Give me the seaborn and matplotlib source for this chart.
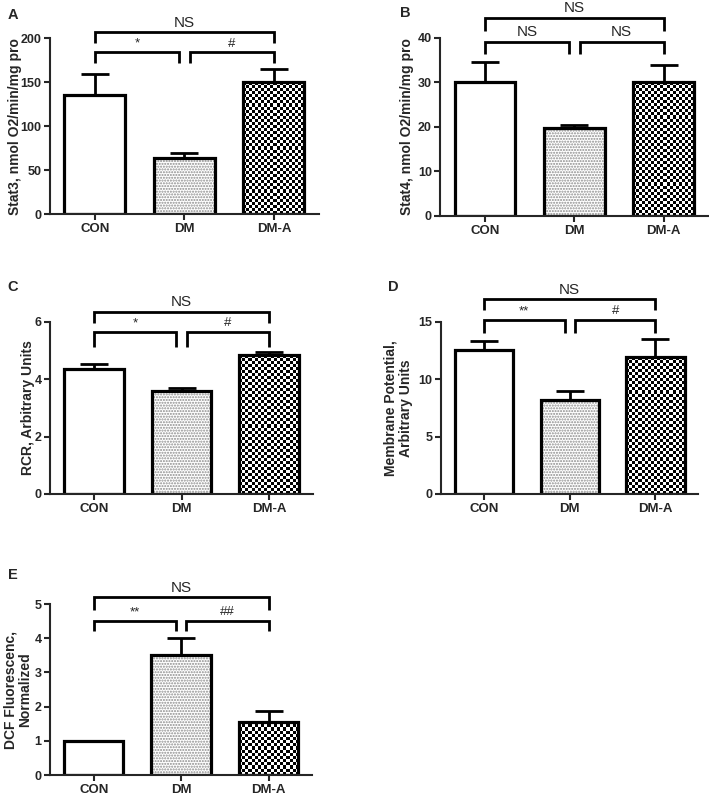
import numpy as np
import pandas as pd
import matplotlib
matplotlib.use("Agg")
import matplotlib.pyplot as plt
import seaborn as sns

sns.set_style("ticks")
plt.rcParams["font.family"] = ["Liberation Sans", "DejaVu Sans"]

# data
groups = ["CON", "DM", "DM-A"]

stat3_mean = [135, 64, 150]
stat3_err = [24, 5, 15]
stat4_mean = [30, 19.8, 30]
stat4_err = [4.5, 0.5, 3.8]
rcr_mean = [4.35, 3.6, 4.85]
rcr_err = [0.2, 0.1, 0.1]
mp_mean = [12.55, 8.2, 11.9]
mp_err = [0.75, 0.75, 1.6]
dcf_mean = [1.0, 3.52, 1.55]
dcf_err = [0.0, 0.5, 0.33]

# significance: CON vs DM, DM vs DM-A, CON vs DM-A
stat3_sig = ["*", "#", "NS"]
stat4_sig = ["NS", "NS", "NS"]
rcr_sig = ["*", "#", "NS"]
mp_sig = ["**", "#", "NS"]
dcf_sig = ["**", "##", "NS"]

panels = [
    # letter, mean, err, sig, ylabel, ylim, yticks, rect, bracket levels (low, leg, top), label x
    ("A", stat3_mean, stat3_err, stat3_sig, "Stat3, nmol O2/min/mg pro", 200,
     [0, 50, 100, 150, 200], [0.0705, 0.732, 0.379, 0.220], (184, 172, 207), -0.13),
    ("B", stat4_mean, stat4_err, stat4_sig, "Stat4, nmol O2/min/mg pro", 40,
     [0, 10, 20, 30, 40], [0.621, 0.730, 0.378, 0.223], (39.1, 36.2, 44.5), -0.123),
    ("C", rcr_mean, rcr_err, rcr_sig, "RCR, Arbitrary Units", 6,
     [0, 2, 4, 6], [0.0705, 0.382, 0.371, 0.215], (5.65, 5.13, 6.35), -0.082),
    ("D", mp_mean, mp_err, mp_sig, "Membrane Potential,\nArbitrary Units", 15,
     [0, 5, 10, 15], [0.622, 0.382, 0.363, 0.215], (15.2, 14.0, 17.0), -0.167),
    ("E", dcf_mean, dcf_err, dcf_sig, "DCF Fluorescenc,\nNormalized", 5,
     [0, 1, 2, 3, 4, 5], [0.0705, 0.030, 0.370, 0.214], (4.51, 4.2, 5.2), -0.122),
]

fig = plt.figure(figsize=(7.09, 7.99), dpi=100)

for letter, mean, err, sig, ylabel, ytop, yticks, rect, (low, leg, top), labx in panels:
    ax = fig.add_axes(rect)
    df = pd.DataFrame({"group": groups, "value": mean})
    sns.barplot(data=df, x="group", y="value", color="white", saturation=1,
                edgecolor="black", linewidth=2.3, width=0.68, errorbar=None, ax=ax)
    ax.set_xlim(-0.5, 2.5)
    ax.set_ylim(0, ytop)

    # upper error bars
    ax.errorbar(range(3), mean, yerr=[[0, 0, 0], err], fmt="none", ecolor="black",
                elinewidth=2.0, capsize=10, capthick=2.0, zorder=0.8)

    # DM: fine grey dots
    dm = ax.patches[1]
    dm.set_hatch("......")
    dm._hatch_color = (0.55, 0.55, 0.55, 1)

    # DM-A: checkerboard clipped to the bar
    dma = ax.patches[2]
    dma.set_facecolor("none")
    x0, y0 = dma.get_x(), dma.get_y()
    w, h = dma.get_width(), dma.get_height()
    p0 = ax.transData.transform((x0, y0))
    p1 = ax.transData.transform((x0 + w, y0 + h))
    nc = max(int(abs(p1[0] - p0[0]) / 3.0), 1)
    nr = max(int(abs(p1[1] - p0[1]) / 3.0), 1)
    ii, jj = np.indices((nr, nc))
    board = ((ii + jj) % 2).astype(float)
    im = ax.imshow(board, cmap="gray", vmin=0, vmax=1, extent=(x0, x0 + w, y0, y0 + h),
                   aspect="auto", interpolation="nearest", zorder=0.9)
    im.set_clip_path(dma)

    # brackets
    lw = 2.0
    gap = 0.06
    for (a, b, yb, txt) in [(0, 1 - gap, low, sig[0]),
                            (1 + gap, 2, low, sig[1]),
                            (0, 2, top, sig[2])]:
        ylegs = leg if yb == low else low + (top - low) * 0.45
        fs = 11 if txt == "NS" else 9.5
        ax.plot([a, a, b, b], [ylegs, yb, yb, ylegs], color="black", lw=lw,
                clip_on=False, solid_capstyle="butt", solid_joinstyle="miter")
        ax.text((a + b) / 2, yb + ytop * 0.015, txt, ha="center", va="bottom",
                fontsize=fs, clip_on=False)

    ax.set_yticks(yticks)
    ax.set_xlabel("")
    ax.set_ylabel(ylabel, fontsize=10, fontweight="bold", linespacing=1.1)
    ax.yaxis.set_label_coords(labx, 0.5)
    ax.yaxis.label.set_verticalalignment("center")
    ax.tick_params(axis="both", width=1.5, length=4, direction="out")
    ax.tick_params(axis="x", labelsize=9.5, pad=2.5)
    ax.tick_params(axis="y", labelsize=9, pad=2)
    for lab in ax.get_xticklabels() + ax.get_yticklabels():
        lab.set_fontweight("bold")
    sns.despine(ax=ax)
    for s in ["left", "bottom"]:
        ax.spines[s].set_linewidth(1.5)

    # panel letter
    lx = {"A": 13, "B": 405, "C": 13, "D": 393, "E": 13}[letter]
    ly = {"A": 15, "B": 13, "C": 287, "D": 287, "E": 575}[letter]
    fig.text(lx / 709, 1 - ly / 799, letter, fontsize=10.5, fontweight="bold",
             ha="center", va="center")

fig.savefig("out.png", dpi=100)
